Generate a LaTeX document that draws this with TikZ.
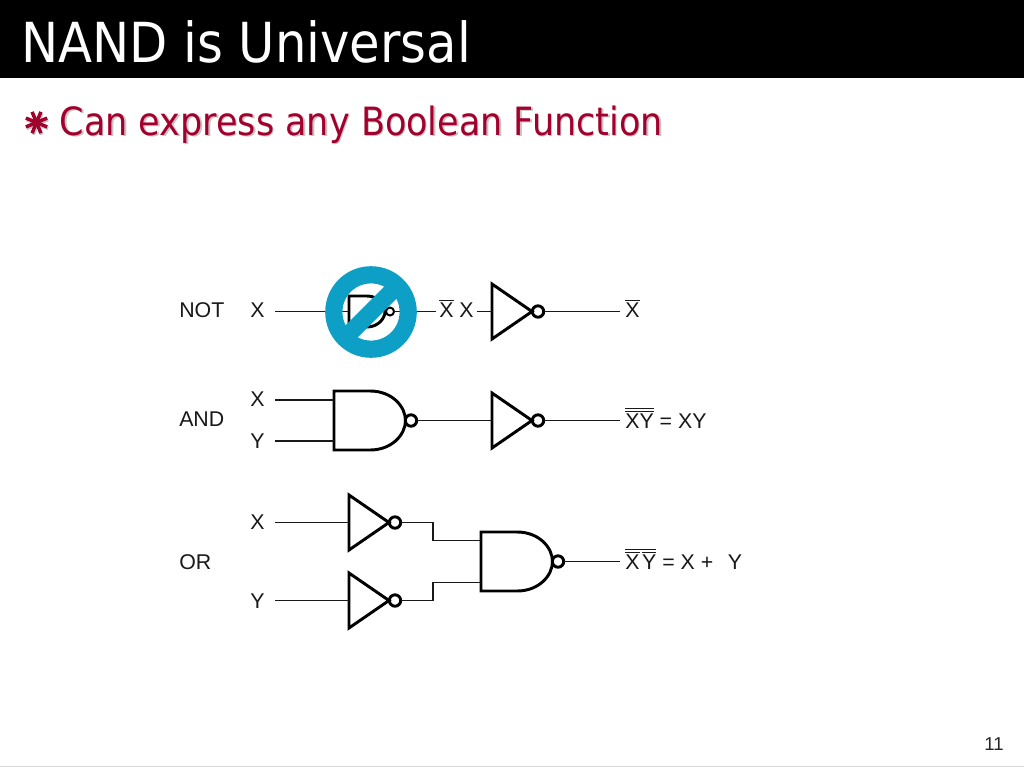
\documentclass[tikz,border=0pt]{standalone}
\usepackage{fontspec}
\setmainfont{Liberation Sans}
\newfontfamily\titlefont{DejaVu Sans Condensed}
\usetikzlibrary{calc}
\definecolor{crimson}{HTML}{A3002E}
\definecolor{shadowgrey}{HTML}{C4C4C4}
\definecolor{signblue}{HTML}{0E9FC6}
\newcommand{\barred}[1]{\vbox{\hrule height 0.9pt\kern 1.1pt\hbox{#1}}}
\tikzset{
  x=0.75pt,y=-0.75pt,
  wire/.style={line width=1.35pt,black!90},
  gateline/.style={line width=2.2pt,black,line join=miter},
  lbl/.style={inner sep=0pt,font=\fontsize{16pt}{18pt}\selectfont,text=black!90},
  invgate/.pic={
    \draw[gateline] (0,-27.5) -- (40,0) -- (0,27.5) -- cycle;
    \draw[gateline] (46,0) circle (5.7);
    \coordinate (-in) at (0,0);
    \coordinate (-out) at (52,0);
  },
  nandgate/.pic={
    \draw[gateline] (0,-29.5) -- (36,-29.5) .. controls (58,-29.5) and (71.5,-14) .. (71.5,0) .. controls (71.5,14) and (58,29.5) .. (36,29.5) -- (0,29.5) -- cycle;
    \draw[gateline] (77,0) circle (5.7);
    \coordinate (-ina) at (0,-21);
    \coordinate (-inb) at (0,21);
    \coordinate (-out) at (83,0);
  },
  smallnand/.pic={
    \draw[gateline] (0,-15.5) -- (18,-15.5) .. controls (29,-15.5) and (36,-7) .. (36,0) .. controls (36,7) and (29,15.5) .. (18,15.5) -- (0,15.5) -- cycle;
    \draw[line width=1.5pt] (41,0) circle (4);
    \coordinate (-in) at (0,0);
    \coordinate (-out) at (45,0);
  }
}
\begin{document}
\begin{tikzpicture}
\useasboundingbox (0,0) rectangle (1024,768);
\fill[white] (0,0) rectangle (1024,768);
\fill[black] (0,0) rectangle (1024,78);
\draw[black!15,line width=0.8pt] (0,766.5) -- (1024,766.5);
\node[anchor=base west,inner sep=0pt,text=white,font=\titlefont\fontsize{41.4pt}{48pt}\selectfont] (title) at (21,62) {NAND is Universal};

% bullet
\foreach \a in {0,45,...,315}{
  \draw[shadowgrey,line width=2.6pt] (37.5,124) -- ++(\a+22.5:11.5);
}
\foreach \a in {0,45,...,315}{
  \draw[crimson,line width=2.6pt] (36.5,122.5) -- ++(\a+22.5:11.5);
}
\node[anchor=base west,inner sep=0pt,text=shadowgrey,font=\titlefont\fontsize{29.2pt}{34pt}\selectfont] (subshadow) at (61,136.5) {Can express any Boolean Function};
\node[anchor=base west,inner sep=0pt,text=crimson,font=\titlefont\fontsize{29.2pt}{34pt}\selectfont] (sub) at (59.5,135) {Can express any Boolean Function};

% NOT row
\node[lbl,anchor=base west] (lnot) at (179,317) {NOT};
\node[lbl,anchor=base west] (xa) at (250,317) {X};
\coordinate (xastart) at (275,311.5);
\pic (ng) at (349,311.5) {smallnand};
\node[lbl,anchor=base west] (xbar) at (439,317) {\barred{X}};
\node[lbl,anchor=base west] (xb) at (459,317) {X};
\coordinate (xbarin) at (436,311.5);
\coordinate (xbout) at (477,311.5);
\pic (ia) at (492,311.5) {invgate};
\coordinate (oa) at (620,311.5);
\node[lbl,anchor=base west] (oatext) at (625,317) {\barred{X}};
\draw[wire] (xastart) -- (ng-in);
\draw[wire] (ng-out) -- (xbarin);
\draw[wire] (xbout) -- (ia-in);
\draw[wire] (ia-out) -- (oa);

% sign
\draw[signblue,line width=12.9pt] (371,312) circle (37.2);
\draw[signblue,line width=12.9pt] ($(371,312)+(135:32)$) -- ($(371,312)+(-45:32)$);

% AND row
\node[lbl,anchor=base west] (land) at (179,426) {AND};
\node[lbl,anchor=base west] (xc) at (250,406) {X};
\node[lbl,anchor=base west] (yc) at (250,448) {Y};
\coordinate (xcs) at (275,400);
\coordinate (ycs) at (275,441);
\pic (nb) at (334,420.5) {nandgate};
\pic (ib) at (492,420.5) {invgate};
\coordinate (ob) at (620,420.5);
\node[lbl,anchor=base west] (obtext) at (625,428) {\barred{\barred{XY}} = XY};
\draw[wire] (xcs) -- (xcs -| nb-ina);
\draw[wire] (ycs) -- (ycs -| nb-inb);
\draw[wire] (nb-out) -- (ib-in);
\draw[wire] (ib-out) -- (ob);

% OR row
\node[lbl,anchor=base west] (lor) at (179,569) {OR};
\node[lbl,anchor=base west] (xd) at (250,529) {X};
\node[lbl,anchor=base west] (yd) at (250,608) {Y};
\coordinate (xds) at (275,522.5);
\coordinate (yds) at (275,600.5);
\pic (ic) at (349,522.5) {invgate};
\pic (id) at (349,600.5) {invgate};
\pic (nc) at (481,561.5) {nandgate};
\coordinate (oc) at (620,561.5);
\node[lbl,anchor=base west] (octext) at (625,569) {\barred{\barred{X}\kern 2pt\barred{Y}} = X +\ \ \kern 2pt Y};
\draw[wire] (xds) -- (ic-in);
\draw[wire] (yds) -- (id-in);
\draw[wire] (ic-out) -- (433,522.5) -- (433,540.5) -- (nc-ina);
\draw[wire] (id-out) -- (433,600.5) -- (433,582.5) -- (nc-inb);
\draw[wire] (nc-out) -- (oc);

\node[anchor=base east,inner sep=0pt,text=black!85,font=\fontsize{14pt}{16pt}\selectfont] (page) at (1004,750) {11};
\end{tikzpicture}
\end{document}
